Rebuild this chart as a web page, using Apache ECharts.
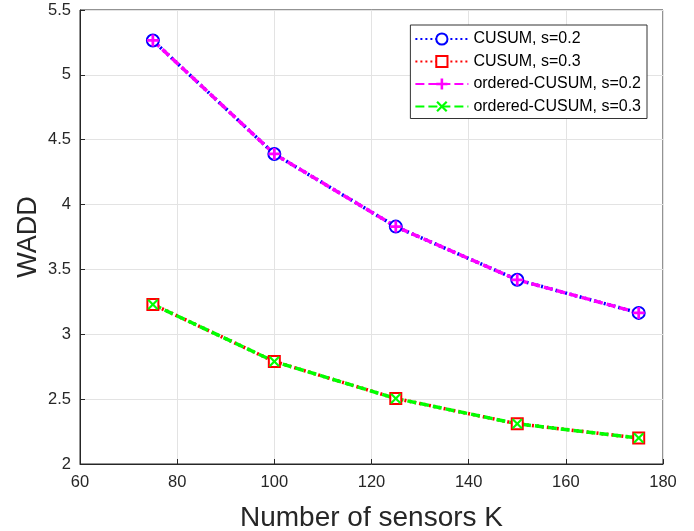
<!DOCTYPE html>
<html>
<head>
<meta charset="utf-8">
<script src="https://cdn.jsdelivr.net/npm/echarts@6/dist/echarts.min.js"></script>
<style>
  html, body { margin: 0; padding: 0; background: #fff; }
  #chart { width: 694px; height: 531px; }
</style>
</head>
<body>
<div id="chart"></div>
<script>
// sensors K on the x axis
var sensors = [75, 100, 125, 150, 175];

// WADD values
var cusum02 = [5.265, 4.39, 3.83, 3.42, 3.165];
var cusum03 = [3.23, 2.79, 2.505, 2.31, 2.2];
var ordered02 = [5.265, 4.39, 3.83, 3.42, 3.165];
var ordered03 = [3.23, 2.79, 2.505, 2.31, 2.2];

var seriesNames = ['CUSUM, s=0.2', 'CUSUM, s=0.3', 'ordered-CUSUM, s=0.2', 'ordered-CUSUM, s=0.3'];

function pairs(ys) {
  return sensors.map(function (x, i) { return [x, ys[i]]; });
}

var plusPath = 'path://M4,0h2.4v4h4v2.4h-4v4h-2.4v-4h-4v-2.4h4z';
var crossPath = 'path://M1.4,0L5,3.6L8.6,0L10,1.4L6.4,5L10,8.6L8.6,10L5,6.4L1.4,10L0,8.6L3.6,5L0,1.4z';

var chart = echarts.init(document.getElementById('chart'));
var font = 'Liberation Sans, Arial, sans-serif';

chart.setOption({
  animation: false,
  textStyle: { fontFamily: font },
  grid: {
    left: 80, right: 31, top: 10, bottom: 67,
    outerBoundsMode: 'none', containLabel: false,
    show: true, borderColor: '#262626', borderWidth: 1, backgroundColor: '#fff'
  },
  legend: {
    orient: 'vertical',
    right: 47, top: 25,
    padding: [6, 6, 4, 4],
    itemWidth: 53, itemHeight: 14, itemGap: 6.5,
    backgroundColor: '#fff',
    borderColor: '#333', borderWidth: 1,
    textStyle: { fontSize: 16, color: '#000', fontFamily: font },
    data: seriesNames
  },
  xAxis: {
    type: 'value', min: 60, max: 180, interval: 20,
    name: 'Number of sensors K', nameLocation: 'middle', nameGap: 40,
    nameMoveOverlap: false,
    nameTextStyle: { fontSize: 28, color: '#262626', fontFamily: font },
    axisLine: { lineStyle: { color: '#262626' } },
    axisTick: { inside: true, length: 5, lineStyle: { color: '#262626' } },
    axisLabel: { fontSize: 16.5, color: '#262626', margin: 10 },
    splitLine: { lineStyle: { color: '#e3e3e3' } }
  },
  yAxis: {
    type: 'value', min: 2, max: 5.5, interval: 0.5,
    name: 'WADD', nameLocation: 'middle', nameGap: 38,
    nameMoveOverlap: false,
    nameTextStyle: { fontSize: 27, color: '#262626', fontFamily: font },
    axisLine: { show: true, lineStyle: { color: '#262626' } },
    axisTick: { show: true, inside: true, length: 5, lineStyle: { color: '#262626' } },
    axisLabel: { fontSize: 16.5, color: '#262626', margin: 9 },
    splitLine: { lineStyle: { color: '#e3e3e3' } }
  },
  series: [
    {
      name: seriesNames[0], type: 'line', data: pairs(cusum02),
      symbol: 'emptyCircle', symbolSize: 12,
      lineStyle: { color: '#0000ff', width: 3.5, type: [2, 3] },
      itemStyle: { color: '#0000ff', borderColor: '#0000ff', borderWidth: 3.5 }
    },
    {
      name: seriesNames[1], type: 'line', data: pairs(cusum03),
      symbol: 'emptyRect', symbolSize: 11,
      lineStyle: { color: '#ff0000', width: 3.5, type: [2, 3] },
      itemStyle: { color: '#ff0000', borderColor: '#ff0000', borderWidth: 3.5 }
    },
    {
      name: seriesNames[2], type: 'line', data: pairs(ordered02),
      symbol: plusPath, symbolSize: 12,
      lineStyle: { color: '#ff00ff', width: 3.5, type: [9, 4] },
      itemStyle: { color: '#ff00ff' }
    },
    {
      name: seriesNames[3], type: 'line', data: pairs(ordered03),
      symbol: crossPath, symbolSize: 11,
      lineStyle: { color: '#00ff00', width: 3.5, type: [9, 4] },
      itemStyle: { color: '#00ff00' }
    }
  ]
});
</script>
</body>
</html>
